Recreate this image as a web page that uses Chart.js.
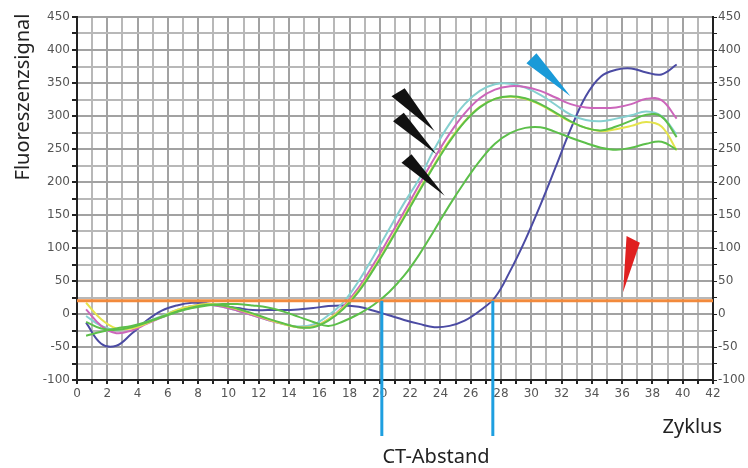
<!DOCTYPE html>
<html>
<head>
<meta charset="utf-8">
<script src="https://cdn.jsdelivr.net/npm/chart.js@4.4.1/dist/chart.umd.min.js"></script>
<style>
  html, body { margin: 0; padding: 0; background: #fff; }
  #wrap { width: 748px; height: 468px; }
</style>
</head>
<body>
<div id="wrap"><canvas id="qpcrChart" width="748" height="468"></canvas></div>
<script>
// cycle numbers of the measurement points
const cycles = [0.6, 1.6, 2.6, 3.6, 4.6, 5.6, 6.6, 7.6, 8.6, 9.6,
  10.6, 11.6, 12.6, 13.6, 14.6, 15.6, 16.6, 17.6, 18.6, 19.6,
  20.6, 21.6, 22.6, 23.6, 24.6, 25.6, 26.6, 27.6, 28.6, 29.6,
  30.6, 31.6, 32.6, 33.6, 34.6, 35.6, 36.6, 37.6, 38.6, 39.6];

// fluorescence signal per sample
const cyanSignal = [-3, -18, -24, -20, -12, -3, 6, 12, 14, 11,
  5, -2, -9, -15, -19, -16, -2, 18, 50, 88,
  128, 168, 205, 250, 288, 318, 338, 348, 349, 343,
  332, 317, 302, 294, 292, 296, 301, 307, 300, 272];
const magentaSignal = [7, -18, -29, -25, -15, -5, 5, 12, 14, 11,
  5, -2, -9, -15, -20, -19, -8, 12, 40, 76,
  115, 155, 196, 236, 273, 304, 327, 340, 345, 344,
  338, 328, 318, 313, 312, 313, 318, 326, 324, 296];
const greenSignal = [-33, -27, -22, -18, -12, -4, 4, 10, 14, 13,
  8, 1, -7, -14, -20, -20, -10, 8, 34, 68,
  106, 146, 186, 225, 261, 291, 313, 326, 330, 327,
  318, 305, 292, 282, 278, 284, 293, 302, 299, 268];
const yellowSignal = [17, -8, -22, -22, -14, -4, 6, 12, 15, 13,
  7, 0, -8, -15, -20, -19, -8, 10, 36, 70,
  108, 148, 188, 227, 263, 292, 314, 326, 329, 326,
  317, 304, 291, 282, 277, 280, 285, 291, 284, 248];
const lateGreenSignal = [-12, -22, -24, -20, -13, -5, 3, 9, 13, 15,
  15, 13, 10, 4, -4, -12, -18, -11, 0, 14,
  33, 58, 90, 127, 165, 200, 232, 258, 274, 282,
  283, 276, 267, 259, 252, 249, 252, 258, 261, 249];
const blueSignal = [-13, -45, -48, -30, -10, 5, 13, 17, 16, 12,
  9, 6, 6, 6, 7, 9, 12, 13, 11, 5,
  -2, -9, -15, -20, -18, -10, 5, 25, 65, 112,
  165, 222, 280, 330, 360, 370, 372, 366, 363, 378];

const threshold = 20;
const ctCycles = [20.13, 27.46];

// annotation wedges [back1, back2, tip] in (cycle, signal)
const blackWedges = [
  [[20.77, 330], [21.64, 342], [23.62, 277]],
  [[20.87, 292], [21.58, 305], [23.74, 242]],
  [[21.43, 229], [22.09, 242], [24.28, 179]],
];
const blueWedge = [[29.68, 380], [30.34, 395], [32.59, 330]];
const redWedge = [[36.29, 118], [37.17, 108], [36.06, 33]];

const toPoints = (values) => values.map((v, i) => ({ x: cycles[i], y: v }));

const curve = (data, color) => ({
  data: toPoints(data),
  borderColor: color,
  borderWidth: 2,
  pointRadius: 0,
  tension: 0.4,
  fill: false,
});

// draws wedges, CT lines and the free texts
const extrasPlugin = {
  id: "extras",
  afterDatasetsDraw(chart) {
    const c = chart.ctx;
    const xs = chart.scales.x;
    const ys = chart.scales.y;
    const area = chart.chartArea;

    const wedge = (pts, color) => {
      c.beginPath();
      pts.forEach((p, i) => {
        const px = xs.getPixelForValue(p[0]);
        const py = ys.getPixelForValue(p[1]);
        if (i === 0) c.moveTo(px, py); else c.lineTo(px, py);
      });
      c.closePath();
      c.fillStyle = color;
      c.fill();
    };

    c.save();
    // CT lines
    c.strokeStyle = "#1e9fe0";
    c.lineWidth = 3;
    ctCycles.forEach((cy) => {
      const px = xs.getPixelForValue(cy);
      c.beginPath();
      c.moveTo(px, ys.getPixelForValue(threshold));
      c.lineTo(px, area.bottom + 56);
      c.stroke();
    });

    blackWedges.forEach((w) => wedge(w, "#111111"));
    wedge(blueWedge, "#1a9ad8");
    wedge(redWedge, "#e02020");

    c.fillStyle = "#222";
    c.font = "20px 'Noto Sans'";
    c.textBaseline = "alphabetic";
    c.textAlign = "center";
    c.fillText("CT-Abstand", 436, 463);
    c.textAlign = "right";
    c.fillText("Zyklus", 722, 433);

    c.translate(29, 97);
    c.rotate(-Math.PI / 2);
    c.textAlign = "center";
    c.fillText("Fluoreszenzsignal", 0, 0);
    c.restore();
  },
};

const tickFont = { family: "'DejaVu Sans'", size: 12 };
const yGrid = (ctx) => (ctx.tick && ctx.tick.value % 50 === 0 ? "#a2a2a2" : "#b8b8b8");
const xGrid = (ctx) => (ctx.tick && ctx.tick.value % 2 === 0 ? "#a2a2a2" : "#b8b8b8");

const chart = new Chart(document.getElementById("qpcrChart"), {
  type: "line",
  data: {
    datasets: [
      {
        data: [{ x: 0, y: threshold }, { x: 42, y: threshold }],
        borderColor: "#f28a3c",
        borderWidth: 3,
        pointRadius: 0,
      },
      curve(greenSignal, "#5cbf4a"),
      curve(lateGreenSignal, "#5cbf4a"),
      curve(yellowSignal, "#e4e44c"),
      curve(magentaSignal, "#cc66bb"),
      curve(cyanSignal, "#86d0d0"),
      curve(blueSignal, "#4b4ba3"),
    ],
  },
  options: {
    responsive: false,
    animation: false,
    layout: { padding: { top: 17, left: 0, right: 0, bottom: 0 } },
    plugins: { legend: { display: false }, tooltip: { enabled: false } },
    scales: {
      x: {
        type: "linear",
        min: 0,
        max: 42,
        afterFit: (s) => { s.height = 88; },
        ticks: {
          stepSize: 1,
          autoSkip: false,
          maxRotation: 0,
          padding: 3,
          color: "#555",
          font: tickFont,
          callback: (v) => (v % 2 === 0 ? v : ""),
        },
        grid: { color: xGrid, lineWidth: 2, tickLength: 4, tickColor: "#222" },
        border: { color: "#222", width: 2 },
      },
      y: {
        position: "left",
        min: -100,
        max: 450,
        afterFit: (s) => { s.width = 77; },
        ticks: {
          stepSize: 25,
          autoSkip: false,
          padding: 2,
          color: "#555",
          font: tickFont,
          callback: (v) => (v % 50 === 0 ? v : ""),
        },
        grid: { color: yGrid, lineWidth: 2, tickLength: 5, tickColor: "#222" },
        border: { color: "#222", width: 2 },
      },
      y2: {
        position: "right",
        min: -100,
        max: 450,
        afterFit: (s) => { s.width = 35; },
        ticks: {
          stepSize: 25,
          autoSkip: false,
          padding: 1,
          color: "#555",
          font: tickFont,
          callback: (v) => (v % 50 === 0 ? v : ""),
        },
        grid: { drawOnChartArea: false, tickLength: 4, tickColor: "#222" },
        border: { color: "#222", width: 2 },
      },
    },
  },
  plugins: [extrasPlugin],
});
</script>
</body>
</html>
